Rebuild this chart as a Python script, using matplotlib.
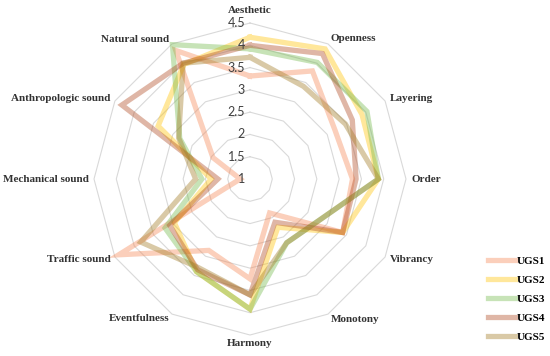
"""Radar chart: soundscape / landscape perception scores for five UGS sites."""

import numpy as np
import matplotlib
matplotlib.use("Agg")
import matplotlib.pyplot as plt
from matplotlib.transforms import offset_copy

categories = ["Aesthetic", "Openness", "Layering", "Order", "Vibrancy", "Monotony",
              "Harmony", "Eventfulness", "Traffic sound", "Mechanical sound",
              "Anthropologic sound", "Natural sound"]

ugs1 = [3.31, 3.80, 3.20, 3.30, 3.40, 1.88, 3.24, 2.85, 4.40, 1.22, 1.96, 4.33]
ugs2 = [4.18, 4.37, 3.90, 3.88, 3.40, 2.25, 3.92, 3.40, 2.96, 1.87, 3.38, 3.97]
ugs3 = [3.92, 4.02, 4.03, 3.88, 2.82, 2.65, 3.92, 3.40, 3.20, 2.08, 2.82, 4.48]
ugs4 = [4.00, 4.25, 3.65, 3.38, 3.40, 2.12, 3.60, 3.35, 3.08, 1.72, 4.32, 4.00]
ugs5 = [3.73, 3.40, 3.47, 3.88, 2.82, 2.65, 3.60, 3.30, 3.83, 2.22, 2.85, 4.00]

series = {"UGS1": ugs1, "UGS2": ugs2, "UGS3": ugs3, "UGS4": ugs4, "UGS5": ugs5}
colors = ["#F58755", "#FFC305", "#73B94B", "#B04A22", "#A07A22"]

rings = [1.5, 2, 2.5, 3, 3.5, 4, 4.5]
tick_labels = ["1", "1.5", "2", "2.5", "3", "3.5", "4", "4.5"]
r_min, r_max = 1.0, 4.5

W, H = 550, 356
fig = plt.figure(figsize=(W / 100, H / 100), dpi=100)
cx, cy, R = 250, 179, 156
ax = fig.add_axes([(cx - R) / W, (H - cy - R) / H, 2 * R / W, 2 * R / H], projection="polar")
ax.set_theta_zero_location("N")
ax.set_theta_direction(-1)
ax.set_ylim(r_min, r_max)
ax.grid(False)
ax.set_xticks([])
ax.set_yticks([])
ax.spines["polar"].set_visible(False)
ax.patch.set_visible(False)

n = len(categories)
angles = np.linspace(0, 2 * np.pi, n, endpoint=False)
closed = np.append(angles, angles[0])

# polygon grid rings
for v in rings:
    ax.plot(closed, [v] * (n + 1), color="#D9D9D9", lw=0.8, clip_on=False, zorder=1)

# data
for (name, vals), c in zip(series.items(), colors):
    ax.plot(closed, vals + vals[:1], color=c, lw=3.8, alpha=0.4, label=name,
            solid_joinstyle="miter", clip_on=False, zorder=3)

# radial tick labels along the top axis
tick_tr = offset_copy(ax.transData, fig=fig, x=-5, y=0, units="dots")
for v, lab in zip([r_min] + rings, tick_labels):
    ax.text(0, v, lab, transform=tick_tr, ha="right", va="center",
            fontsize=9, color="#404040", family="Lato", zorder=4)

# category labels
lab_font = dict(fontsize=8, fontweight="bold", family="Liberation Serif", color="#333333")
for ang, cat in zip(angles, categories):
    deg = np.degrees(ang)
    if np.isclose(deg, 0):
        ax.text(ang, r_max + 0.18, cat, ha="center", va="bottom", **lab_font)
    elif np.isclose(deg, 180):
        ax.text(ang, r_max + 0.1, cat, ha="center", va="top", **lab_font)
    elif deg < 180:
        ax.text(ang, r_max + 0.13, cat, ha="left", va="center", **lab_font)
    else:
        ax.text(ang, r_max + 0.11, cat, ha="right", va="center", **lab_font)

handles, labels = ax.get_legend_handles_labels()
fig.legend(handles, labels, loc="upper left", bbox_to_anchor=(488 / W, 1 - 256 / H),
           frameon=False, handlelength=2.4, handletextpad=0.2, labelspacing=0.83,
           borderpad=0, borderaxespad=0,
           prop=dict(size=8, weight="bold", family="Liberation Serif"))

fig.savefig("out.png", dpi=100)
